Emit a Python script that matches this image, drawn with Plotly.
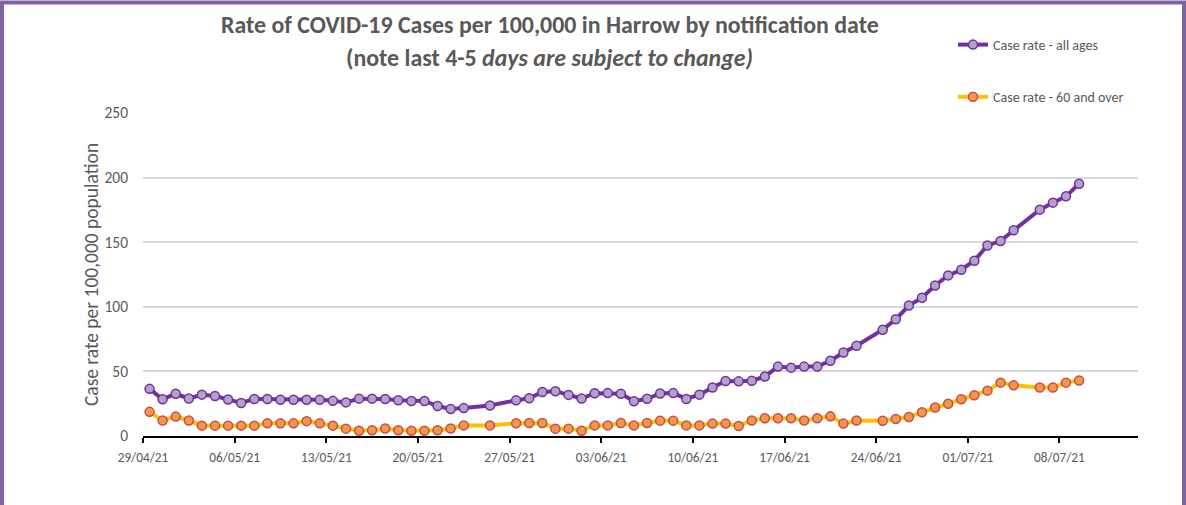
import pandas as pd
import plotly.graph_objects as go

# ---- data -------------------------------------------------------------
dates = [
    "2021-04-29", "2021-04-30", "2021-05-01", "2021-05-02", "2021-05-03", "2021-05-04",
    "2021-05-05", "2021-05-06", "2021-05-07", "2021-05-08", "2021-05-09", "2021-05-10",
    "2021-05-11", "2021-05-12", "2021-05-13", "2021-05-14", "2021-05-15", "2021-05-16",
    "2021-05-17", "2021-05-18", "2021-05-19", "2021-05-20", "2021-05-21", "2021-05-22",
    "2021-05-23", "2021-05-25", "2021-05-27", "2021-05-28", "2021-05-29", "2021-05-30",
    "2021-05-31", "2021-06-01", "2021-06-02", "2021-06-03", "2021-06-04", "2021-06-05",
    "2021-06-06", "2021-06-07", "2021-06-08", "2021-06-09", "2021-06-10", "2021-06-11",
    "2021-06-12", "2021-06-13", "2021-06-14", "2021-06-15", "2021-06-16", "2021-06-17",
    "2021-06-18", "2021-06-19", "2021-06-20", "2021-06-21", "2021-06-22", "2021-06-24",
    "2021-06-25", "2021-06-26", "2021-06-27", "2021-06-28", "2021-06-29", "2021-06-30",
    "2021-07-01", "2021-07-02", "2021-07-03", "2021-07-04", "2021-07-06", "2021-07-07",
    "2021-07-08", "2021-07-09",
]

rate_all_ages = [
    36.5, 28.4, 32.7, 29.0, 32.0, 31.0, 28.3, 25.6, 28.7, 28.7, 28.0, 28.0,
    28.0, 28.0, 27.2, 26.0, 28.9, 28.9, 28.6, 27.7, 27.1, 27.1, 23.2, 20.9,
    21.6, 23.6, 27.6, 29.2, 34.1, 34.7, 31.8, 29.0, 33.1, 33.2, 32.7, 26.9,
    28.8, 32.9, 33.2, 28.7, 32.0, 37.5, 42.6, 42.3, 42.8, 46.0, 53.7, 52.9,
    53.7, 53.7, 58.2, 64.6, 69.9, 82.3, 90.4, 101.0, 107.0, 116.5, 124.3, 128.7,
    135.7, 147.5, 150.9, 159.2, 175.2, 180.6, 185.5, 195.3,
]

rate_60_over = [
    18.7, 12.0, 15.0, 12.0, 8.0, 8.0, 8.0, 8.0, 8.0, 9.8, 9.8, 9.8,
    11.5, 9.8, 8.0, 5.7, 4.1, 4.4, 5.8, 4.4, 4.1, 4.1, 4.4, 5.8,
    8.2, 8.2, 9.9, 10.0, 10.0, 5.7, 5.7, 4.1, 8.2, 8.2, 10.0, 8.2,
    10.0, 11.9, 11.9, 8.2, 8.2, 9.6, 9.6, 7.8, 12.0, 13.7, 13.7, 13.7,
    12.0, 13.7, 15.2, 9.6, 12.0, 11.8, 13.2, 14.7, 18.4, 22.1, 25.0, 28.4,
    31.6, 35.1, 41.3, 39.2, 37.6, 37.6, 41.3, 42.9,
]

series_names = ["Case rate - all ages", "Case rate - 60 and over"]
y_ticks = [0, 50, 100, 150, 200, 250]

# points sit in the middle of each day (date axis, between tick marks)
x_mid = pd.to_datetime(dates) + pd.Timedelta(hours=12)

FONT = "Carlito, Lato, sans-serif"
GREY = "#595959"

# ---- geometry (pixels) -------------------------------------------------
W, H = 1186, 505
L, R, T, B = 143, 1138, 113, 436
pw, ph = R - L, B - T


def px_x(x):
    return (x - L) / pw


def px_y(y):
    return (B - y) / ph


fig = go.Figure()
fig.add_trace(go.Scatter(
    x=x_mid, y=rate_all_ages, name=series_names[0], mode="lines+markers",
    legendgroup="a",
    line=dict(color="#7030A0", width=4),
    marker=dict(size=9, color="#B3A2C7", line=dict(color="#7030A0", width=1.5)),
))
fig.add_trace(go.Scatter(
    x=x_mid, y=rate_60_over, name=series_names[1], mode="lines+markers",
    legendgroup="b",
    line=dict(color="#FFC000", width=4),
    marker=dict(size=9, color="#F79646", line=dict(color="#C0504D", width=1.5)),
))

fig.update_layout(
    width=W, height=H,
    margin=dict(l=L, r=W - R, t=T, b=H - B, pad=0),
    paper_bgcolor="white", plot_bgcolor="white",
    font=dict(family=FONT, color=GREY),
    showlegend=True,
    legend=dict(
        x=px_x(953), y=px_y(29), xanchor="left", yanchor="top",
        font=dict(family=FONT, size=14, color=GREY),
        traceorder="grouped", tracegroupgap=31, itemwidth=30,
        bgcolor="rgba(0,0,0,0)",
    ),
    xaxis=dict(
        type="date",
        range=["2021-04-29", "2021-07-14"],
        tick0="2021-04-29", dtick=7 * 86400000,
        tickformat="%d/%m/%y",
        showgrid=False, showline=True, linecolor="black", linewidth=1.5,
        ticks="outside", ticklen=5, tickcolor="black", tickwidth=1.5,
        ticklabelstandoff=3,
        tickfont=dict(family=FONT, size=13.3, color=GREY),
        zeroline=False,
    ),
    yaxis=dict(
        range=[0, 250], tickvals=y_ticks,
        showgrid=True, gridcolor="#D9D9D9", gridwidth=1.5,
        showline=False, zeroline=False,
        ticks="", ticklabelstandoff=14,
        tickfont=dict(family=FONT, size=15.5, color=GREY),
        title=dict(text="Case rate per 100,000 population",
                   font=dict(family=FONT, size=19.5, color=GREY), standoff=0),
    ),
)

fig.add_annotation(
    text="<b>Rate of COVID-19 Cases per 100,000 in Harrow by notification date</b>",
    xref="paper", yref="paper", x=px_x(550), y=px_y(25),
    xanchor="center", yanchor="middle", showarrow=False,
    font=dict(family=FONT, size=23.9, color=GREY),
)
fig.add_annotation(
    text="<b>(note last 4-5 <i>days are subject to change)</i></b>",
    xref="paper", yref="paper", x=px_x(549), y=px_y(57),
    xanchor="center", yanchor="middle", showarrow=False,
    font=dict(family=FONT, size=23.9, color=GREY),
)

# chart-area border
fig.add_shape(
    type="rect", xref="paper", yref="paper",
    x0=px_x(2), x1=px_x(1184), y0=px_y(530), y1=px_y(2.5),
    line=dict(color="#8064A2", width=4), fillcolor="rgba(0,0,0,0)", layer="above",
)

fig.write_html(
    "out.html",
    config={"displayModeBar": False},
    post_script="document.body.style.margin='0';",
)
